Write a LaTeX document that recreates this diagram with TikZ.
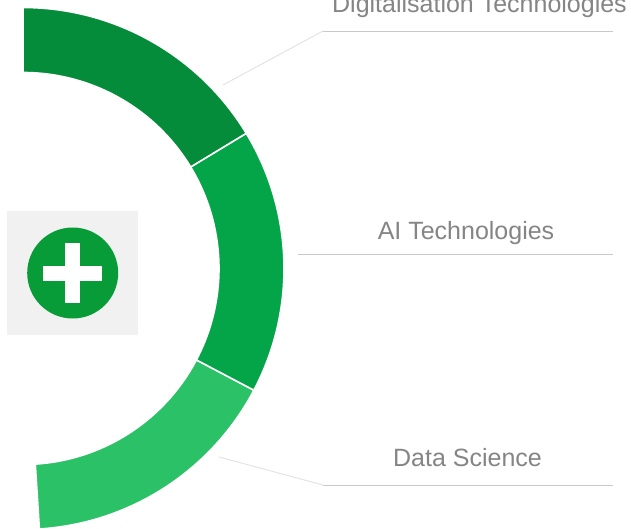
\documentclass[tikz,border=0pt]{standalone}
\usepackage{fontspec}
\setmainfont{Liberation Sans}
\definecolor{segdark}{HTML}{058C3A}
\definecolor{segmid}{HTML}{04A548}
\definecolor{seglight}{HTML}{2BC167}
\definecolor{panel}{HTML}{F1F1F1}
\definecolor{badge}{HTML}{089C39}
\definecolor{labelgrey}{HTML}{858585}
\definecolor{rulegrey}{HTML}{C9C9C9}
\definecolor{leadgrey}{HTML}{E2E2E2}
\tikzset{
  seg/.style={draw=white,line width=1.6pt,line join=miter},
  lbl/.style={text=labelgrey,font=\fontsize{25pt}{30pt}\selectfont,inner sep=0pt,anchor=base},
  rulel/.style={draw=rulegrey,line width=0.9pt},
  leadl/.style={draw=leadgrey,line width=0.9pt}
}
\begin{document}
\begin{tikzpicture}[x=1pt,y=1pt]
\useasboundingbox (0,0) rectangle (631,528);
\clip (0,0) rectangle (631,528);
\def\ro{261}\def\ri{196}
\fill[white] (0,0) rectangle (631,528);
% ring segments, centre (23,259.5)
\path[seg,fill=seglight] ([shift={(23,259.5)}]-27.8:\ro) arc (-27.8:-86.4:\ro) -- ([shift={(23,259.5)}]-86.4:\ri) arc (-86.4:-27.8:\ri) -- cycle;
\path[seg,fill=segmid] ([shift={(23,259.5)}]31.2:\ro) arc (31.2:-27.8:\ro) -- ([shift={(23,259.5)}]-27.8:\ri) arc (-27.8:31.2:\ri) -- cycle;
\path[seg,fill=segdark] ([shift={(23,259.5)}]90:\ro) arc (90:31.2:\ro) -- ([shift={(23,259.5)}]31.2:\ri) arc (31.2:90:\ri) -- cycle;
% badge
\node[fill=panel,minimum width=131pt,minimum height=124pt,inner sep=0pt] (panelbox) at (72.5,255) {};
\node[circle,fill=badge,minimum size=91pt,inner sep=0pt] (plusbadge) at (72.7,255) {};
\fill[white] (65,225) rectangle (80,285);
\fill[white] (43,247) rectangle (102.3,262);
% leaders
\coordinate (a1) at (223,443); \coordinate (a2) at (323,497); \coordinate (a3) at (613,497);
\coordinate (b1) at (298,274); \coordinate (b2) at (613,274);
\coordinate (c1) at (219,71); \coordinate (c2) at (323,43); \coordinate (c3) at (613,43);
\draw[leadl] (a1) -- (a2);
\draw[rulel] (a2) -- (a3);
\draw[rulel] (b1) -- (b2);
\draw[leadl] (c1) -- (c2);
\draw[rulel] (c2) -- (c3);
% labels
\node[lbl] (digi) at (479.5,515) {Digitalisation Technologies};
\node[lbl] (ai) at (466,288.5) {AI Technologies};
\node[lbl] (ds) at (467.5,61.5) {Data Science};
\end{tikzpicture}
\end{document}
